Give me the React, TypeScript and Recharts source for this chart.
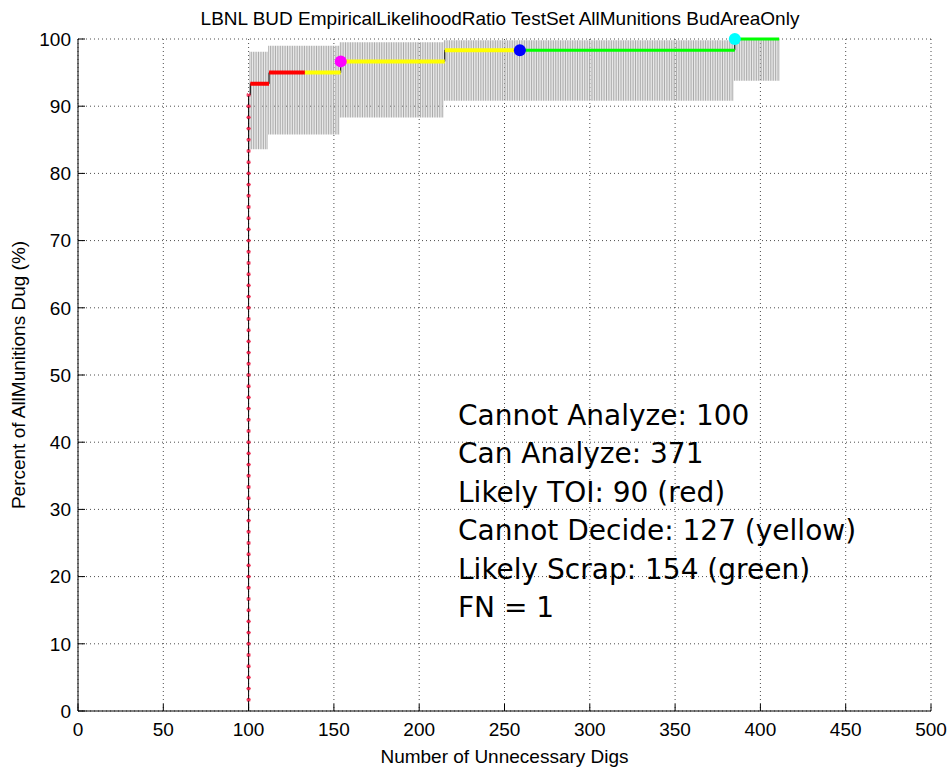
import React from 'react'
import { ComposedChart, Bar, Line, Scatter, XAxis, YAxis, CartesianGrid } from 'recharts'

// detection curve: 60 munitions in total, 55 found before the first unnecessary dig past the 100 cannot-analyze items
const totalMunitions = 60
const startDig = 100
const foundAtStart = 55
const stepDigs = [101, 112, 154, 215, 385]
const stepFound = [56, 57, 58, 59, 60]
const lastDig = 411

// classification ranges along the dig list (red / yellow / green)
const classEnds = [133, 258, 411]
const classColors = ['#ff0000', '#ffff00', '#00ff00']

// grey confidence band, constant between detections
const bandStart = [101, 112, 154, 215, 385]
const bandLow = [83.6, 85.8, 88.3, 90.8, 93.8]
const bandHigh = [98.1, 99.0, 99.5, 99.8, 100]

// threshold markers
const markerDigs = [154, 259, 385]
const markerPct = [96.67, 98.33, 100]
const markerColors = ['#ff00ff', '#0000ff', '#00ffff']

const xTicks = [0, 50, 100, 150, 200, 250, 300, 350, 400, 450, 500]
const yTicks = [0, 10, 20, 30, 40, 50, 60, 70, 80, 90, 100]

const title = 'LBNL BUD EmpiricalLikelihoodRatio TestSet AllMunitions BudAreaOnly'
const notes = [
  'Cannot Analyze: 100',
  'Can Analyze: 371',
  'Likely TOI: 90 (red)',
  'Cannot Decide: 127 (yellow)',
  'Likely Scrap: 154 (green)',
  'FN = 1',
]

const pct = (n: number) => (n / totalMunitions) * 100

const startHits = Array.from({ length: foundAtStart }, (_, i) => ({ x: startDig, y: pct(i + 1) }))

const curve = [
  { x: startDig, y: 0 },
  ...startHits,
  ...stepDigs.map((d, i) => ({ x: d, y: pct(stepFound[i]) })),
  { x: lastDig, y: 100 },
]

// horizontal runs of the curve, cut at the class boundaries
const runs = stepDigs.map((d, i) => ({
  from: d,
  to: i + 1 < stepDigs.length ? stepDigs[i + 1] : lastDig,
  y: pct(stepFound[i]),
}))

const classSegments = classEnds.map((hi, c) => {
  const lo = c === 0 ? startDig : classEnds[c - 1]
  const pts: { x: number; y: number | null }[] = []
  runs.forEach(r => {
    const a = Math.max(r.from, lo)
    const b = Math.min(r.to, hi)
    if (b > a) {
      pts.push({ x: a, y: r.y }, { x: b, y: r.y }, { x: b, y: null })
    }
  })
  return pts
})

const bandRows: { x: number; band: [number, number] }[] = []
bandStart.forEach((s, i) => {
  const end = i + 1 < bandStart.length ? bandStart[i + 1] : lastDig + 1
  for (let x = s; x < end; x++) bandRows.push({ x, band: [bandLow[i], bandHigh[i]] })
})

const markers = markerDigs.map((d, i) => ({ x: d, y: markerPct[i], color: markerColors[i] }))

const font = '"Liberation Sans", Arial, Helvetica, sans-serif'
const tickStyle = { fill: '#000', fontSize: 19, fontFamily: font }

const HitStar = (props: any) => {
  const { cx, cy } = props
  const r = 2.2
  return (
    <g stroke="#f0284f" strokeWidth={1.1}>
      <line x1={cx - r} y1={cy} x2={cx + r} y2={cy} />
      <line x1={cx - r * 0.7} y1={cy - r * 0.7} x2={cx + r * 0.7} y2={cy + r * 0.7} />
      <line x1={cx - r * 0.7} y1={cy + r * 0.7} x2={cx + r * 0.7} y2={cy - r * 0.7} />
    </g>
  )
}

const MarkerDot = (props: any) => {
  const { cx, cy, payload } = props
  return <circle cx={cx} cy={cy} r={6} fill={payload.color} />
}

export default function App() {
  return (
    <div style={{ position: 'absolute', left: 0, top: 0, width: 949, height: 769, background: '#fff' }}>
      <ComposedChart
        width={949}
        height={769}
        data={bandRows}
        margin={{ top: 39, right: 18, bottom: 6, left: 0 }}
      >
        <CartesianGrid stroke="#000" strokeDasharray="1 3" strokeOpacity={0.7} />
        <XAxis
          dataKey="x"
          type="number"
          domain={[0, 500]}
          ticks={xTicks}
          interval={0}
          height={52}
          stroke="#000"
          tickSize={-7}
          tickMargin={19}
          tick={tickStyle}
          label={{ value: 'Number of Unnecessary Digs', position: 'insideBottom', offset: 0, fill: '#000', fontSize: 19, fontFamily: font }}
        />
        <XAxis
          xAxisId="top"
          orientation="top"
          type="number"
          domain={[0, 500]}
          ticks={xTicks}
          interval={0}
          height={0}
          stroke="#000"
          tickSize={-7}
          tickFormatter={() => ''}
        />
        <YAxis
          type="number"
          domain={[0, 100]}
          ticks={yTicks}
          interval={0}
          width={78}
          stroke="#000"
          tickSize={-7}
          tickMargin={14}
          tick={tickStyle}
          label={{ value: 'Percent of AllMunitions Dug (%)', angle: -90, position: 'insideLeft', offset: 18, style: { textAnchor: 'middle' }, fill: '#000', fontSize: 19, fontFamily: font }}
        />
        <YAxis
          yAxisId="right"
          orientation="right"
          type="number"
          domain={[0, 100]}
          ticks={yTicks}
          interval={0}
          width={0}
          stroke="#000"
          tickSize={-7}
          tickFormatter={() => ''}
        />
        <Bar dataKey="band" fill="#ababab" barSize={1} isAnimationActive={false} />
        <Line
          data={curve}
          dataKey="y"
          type="stepAfter"
          stroke="#000"
          strokeWidth={1}
          dot={false}
          isAnimationActive={false}
        />
        {classSegments.map((seg, c) => (
          <Line
            key={c}
            data={seg}
            dataKey="y"
            type="linear"
            stroke={classColors[c]}
            strokeWidth={c === 2 ? 3 : 4}
            dot={false}
            connectNulls={false}
            isAnimationActive={false}
          />
        ))}
        <Scatter data={startHits} dataKey="y" shape={HitStar} isAnimationActive={false} />
        <Scatter data={markers} dataKey="y" shape={MarkerDot} isAnimationActive={false} />
      </ComposedChart>
      <div
        style={{
          position: 'absolute',
          left: 0,
          width: 1000,
          top: 9,
          textAlign: 'center',
          fontFamily: font,
          fontSize: 19,
          lineHeight: '19px',
          color: '#000',
          whiteSpace: 'nowrap',
        }}
      >
        {title}
      </div>
      <div
        style={{
          position: 'absolute',
          left: 458,
          top: 397,
          fontFamily: '"DejaVu Sans", Verdana, sans-serif',
          fontSize: 28,
          lineHeight: '38.4px',
          color: '#000',
          whiteSpace: 'nowrap',
        }}
      >
        {notes.map(t => (
          <div key={t}>{t}</div>
        ))}
      </div>
    </div>
  )
}
